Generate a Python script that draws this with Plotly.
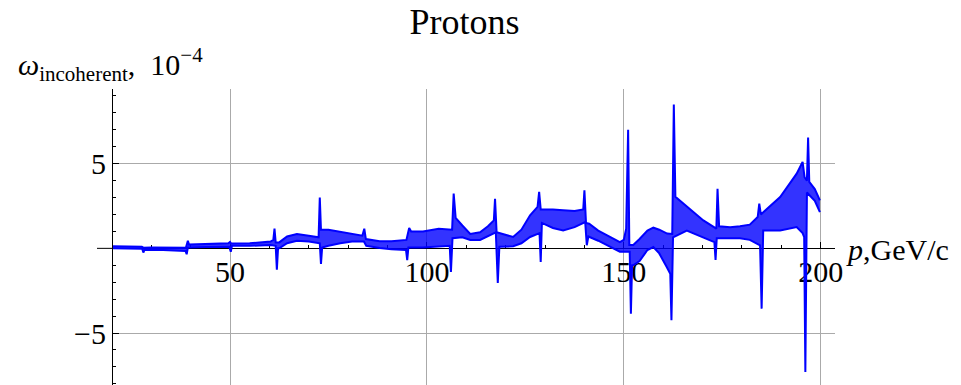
import plotly.graph_objects as go

# Upper envelope of the oscillating curve (p in GeV/c, omega in 1e-4)
p_upper = [20.3, 27.6, 28.0, 30.0, 38.8, 39.3, 39.6, 44.0, 49.6, 50.0, 50.3, 55.0,
           60.3, 61.0, 61.3, 61.6, 62.5, 64.5, 67.0, 70.0, 72.5, 72.8, 73.1, 75.0,
           78.0, 81.0, 83.6, 84.1, 84.5, 88.0, 91.0, 94.8, 95.5, 96.0, 99.0, 103.0,
           106.4, 106.8, 107.3, 109.0, 111.0, 113.5, 115.5, 117.0, 117.3, 117.7, 121.9,
           124.0, 126.2, 128.1, 128.5, 128.9, 132.0, 134.6, 137.5, 139.7, 140.0, 140.4,
           141.2, 143.5, 146.5, 149.0, 150.0, 150.6, 151.1, 151.4, 152.4, 154.0, 156.0,
           157.5, 159.0, 161.0, 162.3, 162.7, 163.1, 166.0, 170.2, 173.5, 173.8, 174.2,
           177.0, 179.5, 182.0, 184.0, 184.4, 184.8, 185.9, 189.7, 193.9, 195.4, 195.9,
           196.5, 196.8, 197.1, 198.5, 199.8]
w_upper = [0.12, 0.10, 0.04, 0.05, 0.03, 0.45, 0.22, 0.25, 0.30, 0.38, 0.28, 0.30,
           0.40, 0.50, 1.16, 0.35, 0.35, 0.70, 0.85, 0.75, 0.65, 3.00, 1.10, 1.10,
           0.98, 0.85, 0.75, 1.16, 0.55, 0.42, 0.42, 0.50, 1.20, 1.00, 1.00, 1.15,
           1.10, 3.23, 1.80, 1.35, 0.85, 0.95, 1.30, 1.65, 2.93, 0.95, 0.67,
           1.10, 1.95, 2.45, 3.33, 2.30, 2.30, 2.25, 2.20, 2.30, 3.43, 1.50,
           1.45, 1.05, 0.67, 0.37, 0.50, 1.16, 7.00, 0.20, 0.20, 0.55, 1.05,
           1.22, 1.10, 0.87, 0.85, 8.50, 3.05, 2.50, 1.65, 1.16, 3.52, 1.30,
           1.25, 1.30, 1.40, 1.85, 2.64, 2.00, 2.24, 3.03, 4.41, 5.10, 4.20,
           4.00, 6.54, 3.92, 3.50, 2.83]

# Lower envelope of the oscillating curve
p_lower = [20.3, 27.7, 28.0, 28.3, 33.0, 38.7, 39.0, 39.3, 44.0, 49.8, 50.2, 50.5,
           55.0, 60.3, 61.6, 61.9, 62.2, 62.5, 64.5, 67.0, 70.0, 72.8, 73.1, 73.4,
           75.0, 78.0, 81.0, 84.0, 84.6, 88.0, 91.0, 94.7, 95.0, 95.3, 99.0, 103.0,
           105.8, 106.1, 106.5, 109.0, 111.0, 113.5, 115.5, 117.5, 118.0, 118.4, 121.9,
           124.0, 126.2, 128.6, 128.9, 129.2, 132.0, 134.6, 137.5, 140.2, 140.6, 141.0,
           143.5, 146.5, 149.0, 151.5, 151.8, 152.1, 152.4, 154.0, 156.0, 157.5, 159.0,
           160.9, 161.8, 162.1, 162.5, 166.0, 170.2, 173.0, 173.3, 173.6, 177.0, 179.5,
           182.0, 184.6, 185.0, 185.4, 189.7, 193.9, 195.4, 195.8, 196.1, 196.5, 198.5,
           199.8]
w_lower = [0.00, -0.02, -0.25, -0.08, -0.10, -0.15, -0.35, 0.05, 0.08, 0.10, -0.20, 0.15,
           0.15, 0.20, 0.15, -1.26, 0.00, 0.00, 0.30, 0.45, 0.40, 0.30, -0.92, 0.05,
           0.15, 0.30, 0.40, 0.40, 0.15, 0.02, -0.05, -0.10, -0.70, 0.05, 0.05, 0.10,
           0.15, -1.40, 0.60, 0.65, 0.50, 0.50, 0.75, 0.95, -2.05, 0.10, 0.12,
           0.30, 0.67, 0.90, -0.80, 1.50, 1.20, 1.05, 1.25, 1.55, 0.18, 0.70,
           0.45, 0.08, -0.20, -0.20, -3.86, -1.00, -1.00, -0.75, -0.10, 0.08, -0.30,
           -1.10, -1.50, -4.25, 0.65, 1.05, 0.67, 0.37, -0.69, 0.60, 0.60, 0.60,
           0.50, 0.18, -3.56, 1.06, 1.06, 1.26, 0.90, 0.67, -7.30, 3.30, 2.80,
           2.14]

x_major = [50, 100, 150, 200]
x_major_text = ["50", "100", "150", "200"]
x_minor = [30, 40, 60, 70, 80, 90, 110, 120, 130, 140, 160, 170, 180, 190]
y_major = [-5, 5]
y_major_text = ["\u22125", "5"]
y_minor = [-8, -7, -6, -4, -3, -2, -1, 1, 2, 3, 4, 6, 7, 8, 9]

X_RANGE = [20.29, 203.63]
Y_RANGE = [-8.07, 9.41]

# plot area in pixels
L, R, T, B = 113, 835, 89, 385
W, H = 961, 385
pw, ph = R - L, B - T

def px2paper_x(px):
    return (px - L) / pw

def py2paper_y(py):
    return (B - py) / ph

blue = "#0000ff"
serif = "Liberation Serif"
grid = "#aaaaaa"

fig = go.Figure()
fig.add_trace(go.Scatter(x=p_lower, y=w_lower, mode="lines",
                         line=dict(color=blue, width=2), hoverinfo="skip"))
fig.add_trace(go.Scatter(x=p_upper, y=w_upper, mode="lines",
                         line=dict(color=blue, width=2), fill="tonexty",
                         fillcolor="rgba(0,0,255,0.8)", hoverinfo="skip"))

zero_pos = (0 - Y_RANGE[0]) / (Y_RANGE[1] - Y_RANGE[0])

fig.update_layout(
    width=W, height=H,
    margin=dict(l=L, r=W - R, t=T, b=H - B, pad=0),
    paper_bgcolor="white", plot_bgcolor="white",
    showlegend=False,
    title=dict(text="Protons", x=464.5 / W, xref="container", xanchor="center",
               y=1 - 21 / H, yref="container", yanchor="middle",
               font=dict(family=serif, size=36, color="black")),
    xaxis=dict(range=X_RANGE, tickmode="array", tickvals=x_major, ticktext=x_major_text,
               showgrid=True, gridcolor=grid, gridwidth=1.3,
               showline=True, linecolor="black", linewidth=1,
               anchor="free", position=zero_pos, layer="below traces",
               ticks="inside", ticklen=6, tickcolor="black", tickwidth=1,
               ticklabelstandoff=-3,
               tickfont=dict(family=serif, size=30, color="black"),
               zeroline=False,
               minor=dict(tickmode="array", tickvals=x_minor, ticks="inside", ticklen=3,
                          tickcolor="black", tickwidth=1, showgrid=False)),
    yaxis=dict(range=Y_RANGE, tickmode="array", tickvals=y_major, ticktext=y_major_text,
               showgrid=True, gridcolor=grid, gridwidth=1.3,
               showline=True, linecolor="black", linewidth=1, layer="below traces",
               ticks="inside", ticklen=6, tickcolor="black", tickwidth=1,
               tickfont=dict(family=serif, size=30, color="black"),
               zeroline=False,
               minor=dict(tickmode="array", tickvals=y_minor, ticks="inside", ticklen=3,
                          tickcolor="black", tickwidth=1, showgrid=False)),
)

# short extension of the horizontal axis to the left of the vertical axis
fig.add_shape(type="line", xref="paper", yref="y", x0=px2paper_x(97), x1=0, y0=0, y1=0,
              line=dict(color="black", width=1), layer="below")

fig.add_annotation(text="<i>ω</i><sub>incoherent</sub>,\u00a0\u00a010<sup>\u22124</sup>",
                   xref="paper", yref="paper", x=px2paper_x(16), y=py2paper_y(65),
                   xanchor="left", yanchor="middle", showarrow=False,
                   font=dict(family=serif, size=30, color="black"))
fig.add_annotation(text="<i>p</i>,GeV/c",
                   xref="paper", yref="paper", x=px2paper_x(844), y=py2paper_y(250),
                   xanchor="left", yanchor="middle", showarrow=False,
                   font=dict(family=serif, size=30, color="black"))

fig.write_html("out.html")
